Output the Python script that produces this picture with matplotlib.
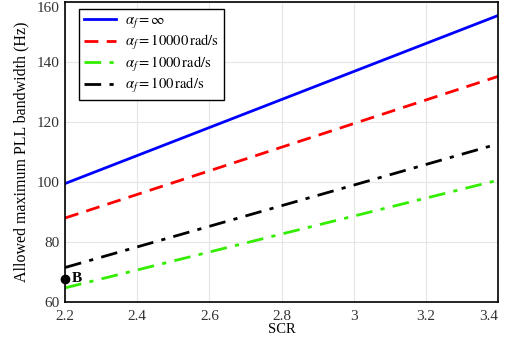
import matplotlib
matplotlib.use('Agg')
import matplotlib.pyplot as plt
import numpy as np

plt.rcParams['font.family'] = ['Liberation Serif', 'DejaVu Serif']
plt.rcParams['mathtext.fontset'] = 'stix'

# data
scr = [2.2, 3.4]
bw_inf = [99.5, 155.5]
bw_10000 = [88.0, 135.2]
bw_1000 = [64.7, 100.6]
bw_100 = [71.5, 112.7]
point_b = (2.2, 67.8)

labels = [r'$\alpha_f=\infty$',
          r'$\alpha_f=10000\,\mathrm{rad/s}$',
          r'$\alpha_f=1000\,\mathrm{rad/s}$',
          r'$\alpha_f=100\,\mathrm{rad/s}$']

fig = plt.figure(figsize=(5.05, 3.42), dpi=100)
ax = fig.add_axes([0.129, 0.117, 0.857, 0.877])

ax.plot(scr, bw_inf, color='#0000ff', lw=2, ls='-', label=labels[0])
ax.plot(scr, bw_10000, color='#ff0000', lw=2, ls=(0, (5, 3)), label=labels[1])
ax.plot(scr, bw_1000, color='#33ee00', lw=2, ls=(0, (6, 3, 1.5, 3)), label=labels[2])
ax.plot(scr, bw_100, color='black', lw=2, ls=(0, (6, 3, 1.5, 3)), label=labels[3])

ax.plot(*point_b, 'o', color='black', ms=6, clip_on=False, zorder=5)
ax.text(point_b[0] + 0.018, point_b[1], 'B', fontsize=11, fontweight='bold', va='center')

ax.set_xlim(2.2, 3.4)
ax.set_ylim(60, 160)
ax.set_xticks([2.2, 2.4, 2.6, 2.8, 3.0, 3.2, 3.4])
ax.set_xticklabels(['2.2', '2.4', '2.6', '2.8', '3', '3.2', '3.4'])
ax.set_yticks([60, 80, 100, 120, 140, 160])
ax.tick_params(labelsize=11, length=0, colors='#333333')
ax.tick_params(axis='x', pad=6)
ax.tick_params(axis='y', pad=4)
ax.grid(True, color='#e6e6e6', lw=0.8)
for s in ax.spines.values():
    s.set_linewidth(1.2)

# edge labels pulled inside, like the reference
ax.get_xticklabels()[-1].set_ha('right')
ax.get_yticklabels()[-1].set_va('top')

ax.set_xlabel('SCR', fontsize=10.5, labelpad=0)
ax.set_ylabel('Allowed maximum PLL bandwidth (Hz)', fontsize=11.5, labelpad=5)

leg = ax.legend(loc='upper left', bbox_to_anchor=(0.032, 0.977), fontsize=10.5,
                handlelength=2.2, handletextpad=0.6, labelspacing=0.18,
                fancybox=False, edgecolor='black', framealpha=1,
                borderpad=0.35, borderaxespad=0)
leg.get_frame().set_linewidth(1.0)

fig.savefig('out.png', dpi=100)
